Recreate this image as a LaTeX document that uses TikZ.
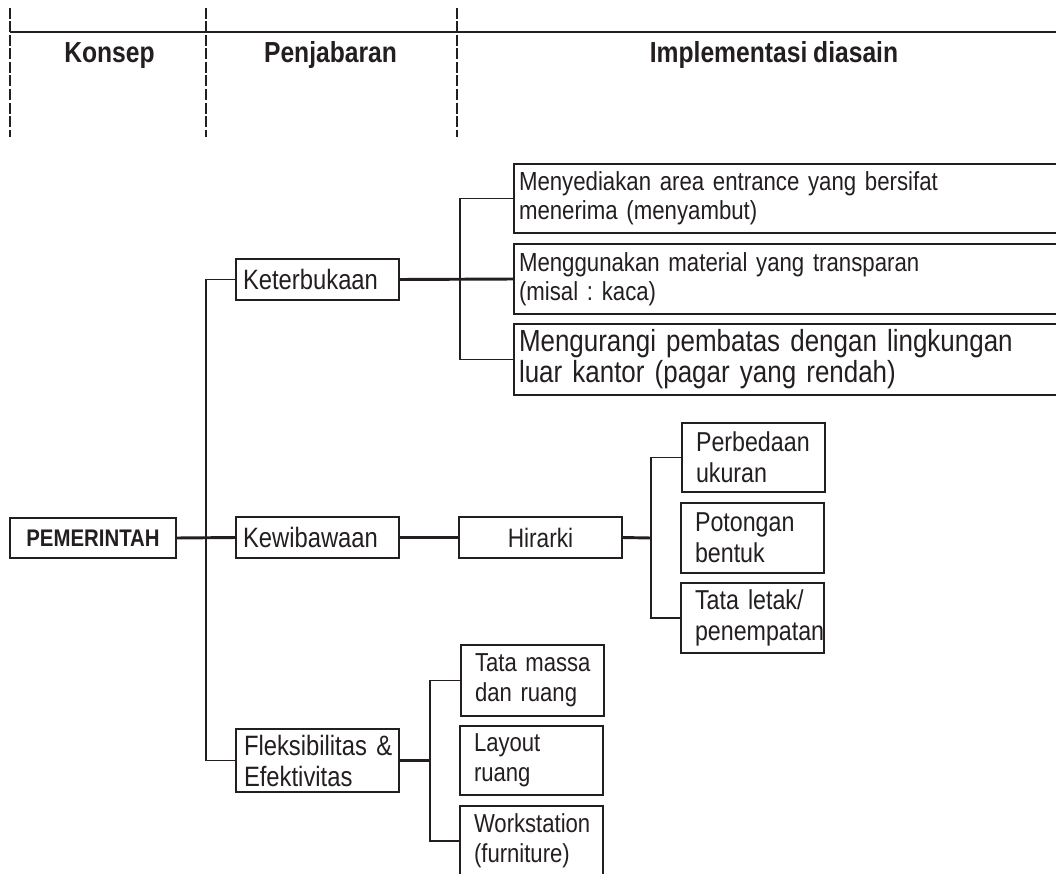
\documentclass[tikz,border=0pt]{standalone}
\usepackage{fontspec}
\setmainfont{Liberation Sans}
\newfontfamily\nar{Liberation Sans}[FakeStretch=0.85, WordSpace=0.85]
\usetikzlibrary{calc}
\definecolor{ink}{RGB}{35,31,32}
\def\pxu{0.75pt}
\newcommand\fHead{\nar\bfseries\fontsize{21.75}{24}\selectfont}
\newcommand\fRoot{\nar\bfseries\fontsize{18}{21}\selectfont}
\newcommand\fMid{\nar\fontsize{21}{23.25}\selectfont}
\newcommand\fHir{\nar\fontsize{20}{23}\selectfont}
\newcommand\fTop{\nar\fontsize{19.6}{21.75}\selectfont}
\newcommand\fBig{\nar\fontsize{22.9}{23.25}\selectfont}
\newcommand\fSm{\nar\fontsize{19.5}{22.5}\selectfont}
\newcommand\fSmb{\nar\fontsize{20.5}{23}\selectfont}
\newcommand\lyne[1]{\mbox{#1}}
\tikzset{
  bx/.style={draw=ink, text=ink, line width=1.5pt, rectangle, anchor=north west,
    inner ysep=0pt, outer sep=0pt, align=left},
  thinln/.style={draw=ink, line width=1.1pt},
  thickln/.style={draw=ink, line width=2.2pt},
  hdrdash/.style={draw=ink, line width=2.2pt, dash pattern=on 11*\pxu off 2.5*\pxu},
  hdrtext/.style={text=ink, font=\fHead, anchor=base},
}
\begin{document}
\frenchspacing
\begin{tikzpicture}[x=0.75pt, y=-0.75pt]
\useasboundingbox (0,0) rectangle (1056,874);
\clip (0,0) rectangle (1056,874);
\fill[white] (0,0) rectangle (1056,874);

% header
\draw[thickln] (10,32) -- (1060,32);
\draw[hdrdash] (10,8) -- (10,137);
\draw[hdrdash] (206,8) -- (206,137);
\draw[hdrdash] (457,8) -- (457,137);
\node[hdrtext] (h1) at (109.5,63) {Konsep};
\node[hdrtext] (h2) at (330.5,63) {Penjabaran};
\node[hdrtext] (h3) at (774,63) {Implementasi diasain};

% root
\node[bx, align=center, minimum width=166*\pxu, minimum height=40*\pxu, inner xsep=0pt, font=\fRoot] (root) at (10,518) {PEMERINTAH};

% level 2
\node[bx, minimum width=163*\pxu, minimum height=41*\pxu, inner xsep=7*\pxu, text width=149*\pxu, font=\fMid] (ket) at (236,259) {\lyne{Keterbukaan}};
\node[bx, minimum width=163*\pxu, minimum height=41*\pxu, inner xsep=7*\pxu, text width=149*\pxu, font=\fMid] (kew) at (236,517) {\lyne{Kewibawaan}};
\node[bx, minimum width=163*\pxu, minimum height=63*\pxu, inner xsep=8*\pxu, text width=147*\pxu, font=\fMid] (flex) at (236,729) {\lyne{Fleksibilitas \&}\\\lyne{Efektivitas}};

% Keterbukaan children
\node[bx, minimum width=560*\pxu, minimum height=69*\pxu, inner xsep=5*\pxu, text width=550*\pxu, font=\fTop] (b1) at (514,164) {\lyne{Menyediakan area entrance yang bersifat}\\\lyne{menerima (menyambut)}};
\node[bx, minimum width=560*\pxu, minimum height=70*\pxu, inner xsep=5*\pxu, text width=550*\pxu, font=\fTop] (b2) at (514,244) {\lyne{Menggunakan material yang transparan}\\\lyne{(misal : kaca)}};
\node[bx, minimum width=560*\pxu, minimum height=71*\pxu, inner xsep=5*\pxu, text width=550*\pxu, font=\fBig] (b3) at (514,324) {\lyne{Mengurangi pembatas dengan lingkungan}\\\lyne{luar kantor (pagar yang rendah)}};

% Kewibawaan children
\node[bx, align=center, minimum width=163*\pxu, minimum height=41*\pxu, inner xsep=0pt, font=\fHir] (hir) at (459,517) {Hirarki};
\node[bx, minimum width=143*\pxu, minimum height=69*\pxu, inner xsep=14*\pxu, text width=115*\pxu, font=\fSmb] (perb) at (682,423) {\lyne{Perbedaan}\\\lyne{ukuran}};
\node[bx, minimum width=143*\pxu, minimum height=70*\pxu, inner xsep=14*\pxu, text width=115*\pxu, font=\fSmb] (pot) at (681,503) {\lyne{Potongan}\\\lyne{bentuk}};
\node[bx, minimum width=143*\pxu, minimum height=70*\pxu, inner xsep=14*\pxu, text width=115*\pxu, font=\fSmb] (tata) at (681,583) {\lyne{Tata letak/}\\\lyne{penempatan}};

% Fleksibilitas children
\node[bx, minimum width=143*\pxu, minimum height=71*\pxu, inner xsep=14*\pxu, text width=115*\pxu, font=\fSm] (mass) at (461,645) {\lyne{Tata massa}\\\lyne{dan ruang}};
\node[bx, minimum width=143*\pxu, minimum height=69*\pxu, inner xsep=14*\pxu, text width=115*\pxu, font=\fSm] (lay) at (460,726) {\lyne{Layout}\\\lyne{ruang}};
\node[bx, minimum width=143*\pxu, minimum height=70*\pxu, inner xsep=14*\pxu, text width=115*\pxu, font=\fSm] (work) at (460,806) {\lyne{Workstation}\\\lyne{(furniture)}};

% junction coordinates
\coordinate (jA) at (206,538);
\coordinate (jB) at (651,538);
\coordinate (jC) at (430,761);

% connectors
\draw[thickln] (root.east) -- (kew.west);
\draw[thinln] (ket.west) -| (jA) |- (flex.west);
\draw[thickln] (ket.east) -- (b2.west);
\draw[thinln] (b1.west) -- ++(-54,0) |- (b3.west);
\draw[thickln] (kew.east) -- (hir.west);
\draw[thickln] (hir.east) -- (jB);
\draw[thinln] (perb.west) -| (jB) |- (tata.west);
\draw[thickln] (flex.east) -- (flex.east -| jC);
\draw[thinln] (mass.west) -| (jC) |- (work.west);
\end{tikzpicture}
\end{document}
